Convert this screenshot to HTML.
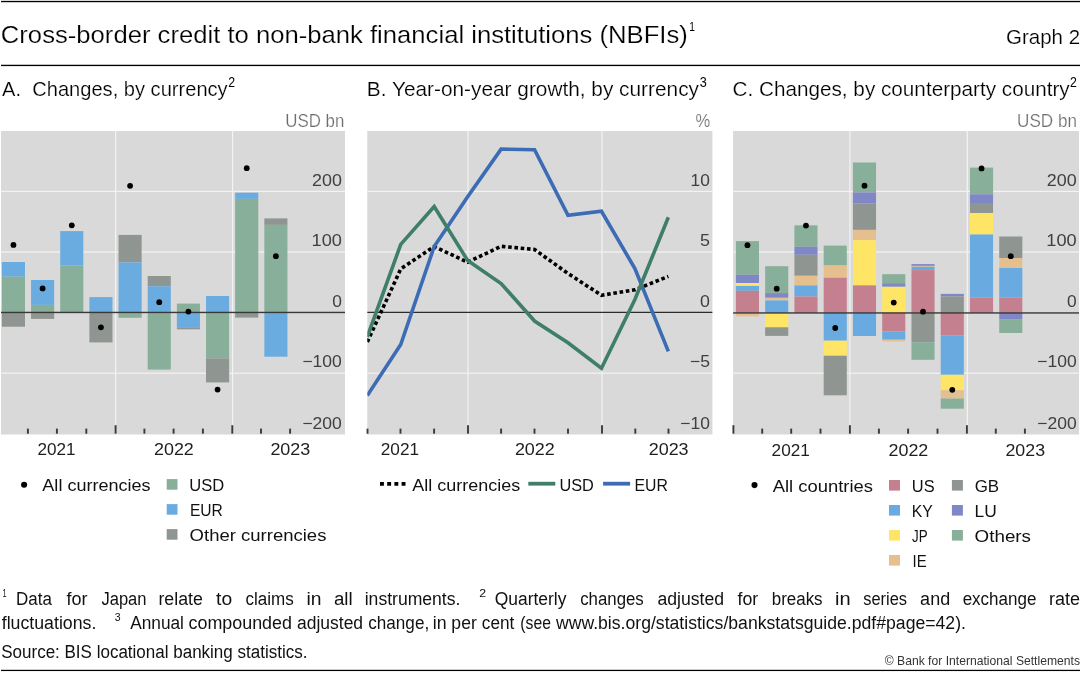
<!DOCTYPE html>
<html><head><meta charset="utf-8"><style>
html,body{margin:0;padding:0;background:#fff;width:1083px;height:675px;overflow:hidden}
svg{display:block;will-change:transform}
text{font-family:"Liberation Sans", sans-serif}
</style></head><body>
<svg width="1083" height="675" viewBox="0 0 1083 675">
<rect x="0" y="0" width="1083" height="675" fill="#fff"/>
<rect x="1" y="0.85" width="1079" height="1.35" fill="#000"/>
<rect x="1" y="64.75" width="1079" height="1.35" fill="#000"/>
<rect x="1" y="669.8" width="1079" height="1.25" fill="#000"/>
<rect x="1" y="131" width="344" height="303.5" fill="#d9d9d9"/>
<rect x="1" y="190.80" width="344" height="1.2" fill="#f3f3f3"/>
<rect x="1" y="251.40" width="344" height="1.2" fill="#f3f3f3"/>
<rect x="1" y="372.60" width="344" height="1.2" fill="#f3f3f3"/>
<rect x="115.00" y="131" width="1.2" height="303.5" fill="#f3f3f3"/>
<rect x="232.00" y="131" width="1.2" height="303.5" fill="#f3f3f3"/>
<rect x="1.90" y="262.00" width="23.10" height="14.70" fill="#6aacdf"/>
<rect x="1.90" y="276.70" width="23.10" height="35.70" fill="#88af99"/>
<rect x="1.90" y="312.40" width="23.10" height="14.30" fill="#8f9590"/>
<rect x="31.06" y="280.00" width="23.10" height="24.90" fill="#6aacdf"/>
<rect x="31.06" y="304.90" width="23.10" height="7.50" fill="#88af99"/>
<rect x="31.06" y="312.40" width="23.10" height="6.50" fill="#8f9590"/>
<rect x="60.22" y="231.10" width="23.10" height="34.50" fill="#6aacdf"/>
<rect x="60.22" y="265.60" width="23.10" height="46.80" fill="#88af99"/>
<rect x="89.38" y="297.10" width="23.10" height="15.30" fill="#6aacdf"/>
<rect x="89.38" y="312.40" width="23.10" height="30.00" fill="#8f9590"/>
<rect x="118.54" y="234.90" width="23.10" height="27.50" fill="#8f9590"/>
<rect x="118.54" y="262.40" width="23.10" height="50.00" fill="#6aacdf"/>
<rect x="118.54" y="312.40" width="23.10" height="5.40" fill="#88af99"/>
<rect x="147.70" y="276.00" width="23.10" height="10.20" fill="#8f9590"/>
<rect x="147.70" y="286.20" width="23.10" height="26.20" fill="#6aacdf"/>
<rect x="147.70" y="312.40" width="23.10" height="57.20" fill="#88af99"/>
<rect x="176.86" y="303.60" width="23.10" height="8.80" fill="#88af99"/>
<rect x="176.86" y="312.40" width="23.10" height="14.90" fill="#6aacdf"/>
<rect x="176.86" y="327.30" width="23.10" height="2.00" fill="#8f9590"/>
<rect x="206.02" y="296.00" width="23.10" height="16.40" fill="#6aacdf"/>
<rect x="206.02" y="312.40" width="23.10" height="46.00" fill="#88af99"/>
<rect x="206.02" y="358.40" width="23.10" height="24.00" fill="#8f9590"/>
<rect x="235.18" y="192.70" width="23.10" height="6.20" fill="#6aacdf"/>
<rect x="235.18" y="198.90" width="23.10" height="113.50" fill="#88af99"/>
<rect x="235.18" y="312.40" width="23.10" height="5.20" fill="#8f9590"/>
<rect x="264.34" y="218.40" width="23.10" height="6.50" fill="#8f9590"/>
<rect x="264.34" y="224.90" width="23.10" height="87.50" fill="#88af99"/>
<rect x="264.34" y="312.40" width="23.10" height="44.30" fill="#6aacdf"/>
<rect x="1" y="311.75" width="344" height="1.4" fill="#383838"/>
<circle cx="13.45" cy="244.9" r="2.9" fill="#000"/>
<circle cx="42.61" cy="288.4" r="2.9" fill="#000"/>
<circle cx="71.77" cy="225.3" r="2.9" fill="#000"/>
<circle cx="100.93" cy="327.3" r="2.9" fill="#000"/>
<circle cx="130.09" cy="185.8" r="2.9" fill="#000"/>
<circle cx="159.25" cy="302.2" r="2.9" fill="#000"/>
<circle cx="188.41" cy="311.6" r="2.9" fill="#000"/>
<circle cx="217.57" cy="389.6" r="2.9" fill="#000"/>
<circle cx="246.73" cy="168.2" r="2.9" fill="#000"/>
<circle cx="275.89" cy="256.2" r="2.9" fill="#000"/>
<rect x="114.65" y="425.2" width="1.9" height="8.5" fill="#3a3a3a"/>
<rect x="231.35" y="425.2" width="1.9" height="8.5" fill="#3a3a3a"/>
<rect x="26.95" y="428.6" width="1.9" height="5.1" fill="#3a3a3a"/>
<rect x="55.95" y="428.6" width="1.9" height="5.1" fill="#3a3a3a"/>
<rect x="85.35" y="428.6" width="1.9" height="5.1" fill="#3a3a3a"/>
<rect x="143.45" y="428.6" width="1.9" height="5.1" fill="#3a3a3a"/>
<rect x="172.65" y="428.6" width="1.9" height="5.1" fill="#3a3a3a"/>
<rect x="201.95" y="428.6" width="1.9" height="5.1" fill="#3a3a3a"/>
<rect x="260.05" y="428.6" width="1.9" height="5.1" fill="#3a3a3a"/>
<rect x="289.15" y="428.6" width="1.9" height="5.1" fill="#3a3a3a"/>
<rect x="367.3" y="131" width="345.09999999999997" height="303.5" fill="#d9d9d9"/>
<rect x="367.3" y="190.80" width="345.09999999999997" height="1.2" fill="#f3f3f3"/>
<rect x="367.3" y="251.40" width="345.09999999999997" height="1.2" fill="#f3f3f3"/>
<rect x="367.3" y="372.60" width="345.09999999999997" height="1.2" fill="#f3f3f3"/>
<rect x="467.40" y="131" width="1.2" height="303.5" fill="#f3f3f3"/>
<rect x="601.40" y="131" width="1.2" height="303.5" fill="#f3f3f3"/>
<rect x="367.3" y="311.80" width="345.1" height="1.0" fill="#000"/>
<clipPath id="clipB"><rect x="367.3" y="131" width="345.1" height="303.4"/></clipPath>
<g clip-path="url(#clipB)">
<polyline points="367.30,342.00 400.75,268.90 434.20,246.60 467.65,262.20 501.10,246.30 534.55,249.50 568.00,273.50 601.45,295.30 634.90,289.80 668.35,276.40" fill="none" stroke="#000" stroke-width="3.6" stroke-dasharray="3.6 2.7" stroke-linejoin="miter"/>
<polyline points="367.30,395.50 400.75,344.50 434.20,246.50 467.65,196.80 501.10,149.10 534.55,149.70 568.00,215.30 601.45,211.30 634.90,268.50 668.35,351.40" fill="none" stroke="#3b6cb4" stroke-width="3.6" stroke-linejoin="miter"/>
<polyline points="367.30,336.80 400.75,244.40 434.20,206.60 467.65,260.50 501.10,283.60 534.55,321.00 568.00,342.70 601.45,368.30 634.90,299.50 668.35,217.30" fill="none" stroke="#3f7f67" stroke-width="3.6" stroke-linejoin="miter"/>
</g>
<rect x="467.05" y="425.2" width="1.9" height="8.5" fill="#3a3a3a"/>
<rect x="601.05" y="425.2" width="1.9" height="8.5" fill="#3a3a3a"/>
<rect x="366.55" y="428.6" width="1.9" height="5.1" fill="#3a3a3a"/>
<rect x="399.55" y="428.6" width="1.9" height="5.1" fill="#3a3a3a"/>
<rect x="433.15" y="428.6" width="1.9" height="5.1" fill="#3a3a3a"/>
<rect x="500.15" y="428.6" width="1.9" height="5.1" fill="#3a3a3a"/>
<rect x="533.55" y="428.6" width="1.9" height="5.1" fill="#3a3a3a"/>
<rect x="567.05" y="428.6" width="1.9" height="5.1" fill="#3a3a3a"/>
<rect x="634.35" y="428.6" width="1.9" height="5.1" fill="#3a3a3a"/>
<rect x="667.55" y="428.6" width="1.9" height="5.1" fill="#3a3a3a"/>
<rect x="733.1" y="131" width="345.9" height="303.5" fill="#d9d9d9"/>
<rect x="733.1" y="190.80" width="345.9" height="1.2" fill="#f3f3f3"/>
<rect x="733.1" y="251.40" width="345.9" height="1.2" fill="#f3f3f3"/>
<rect x="733.1" y="372.60" width="345.9" height="1.2" fill="#f3f3f3"/>
<rect x="849.30" y="131" width="1.2" height="303.5" fill="#f3f3f3"/>
<rect x="966.70" y="131" width="1.2" height="303.5" fill="#f3f3f3"/>
<rect x="735.90" y="241.10" width="23.10" height="33.70" fill="#88af99"/>
<rect x="735.90" y="274.80" width="23.10" height="8.20" fill="#7f87c6"/>
<rect x="735.90" y="283.00" width="23.10" height="2.90" fill="#ffe566"/>
<rect x="735.90" y="285.90" width="23.10" height="4.90" fill="#69abe0"/>
<rect x="735.90" y="290.80" width="23.10" height="22.10" fill="#c4808f"/>
<rect x="735.90" y="312.90" width="23.10" height="3.50" fill="#e5c08e"/>
<rect x="765.16" y="266.20" width="23.10" height="26.90" fill="#88af99"/>
<rect x="765.16" y="293.10" width="23.10" height="4.70" fill="#7f87c6"/>
<rect x="765.16" y="297.80" width="23.10" height="2.60" fill="#e5c08e"/>
<rect x="765.16" y="300.40" width="23.10" height="12.50" fill="#69abe0"/>
<rect x="765.16" y="312.90" width="23.10" height="14.40" fill="#ffe566"/>
<rect x="765.16" y="327.30" width="23.10" height="8.60" fill="#8f9590"/>
<rect x="794.42" y="225.30" width="23.10" height="21.50" fill="#88af99"/>
<rect x="794.42" y="246.80" width="23.10" height="8.00" fill="#7f87c6"/>
<rect x="794.42" y="254.80" width="23.10" height="21.00" fill="#8f9590"/>
<rect x="794.42" y="275.80" width="23.10" height="9.60" fill="#e5c08e"/>
<rect x="794.42" y="285.40" width="23.10" height="11.10" fill="#69abe0"/>
<rect x="794.42" y="296.50" width="23.10" height="16.40" fill="#c4808f"/>
<rect x="823.68" y="245.60" width="23.10" height="19.90" fill="#88af99"/>
<rect x="823.68" y="265.50" width="23.10" height="12.20" fill="#e5c08e"/>
<rect x="823.68" y="277.70" width="23.10" height="35.20" fill="#c4808f"/>
<rect x="823.68" y="312.90" width="23.10" height="27.80" fill="#69abe0"/>
<rect x="823.68" y="340.70" width="23.10" height="15.00" fill="#ffe566"/>
<rect x="823.68" y="355.70" width="23.10" height="39.60" fill="#8f9590"/>
<rect x="852.94" y="162.50" width="23.10" height="29.90" fill="#88af99"/>
<rect x="852.94" y="192.40" width="23.10" height="10.90" fill="#7f87c6"/>
<rect x="852.94" y="203.30" width="23.10" height="26.60" fill="#8f9590"/>
<rect x="852.94" y="229.90" width="23.10" height="10.20" fill="#e5c08e"/>
<rect x="852.94" y="240.10" width="23.10" height="45.30" fill="#ffe566"/>
<rect x="852.94" y="285.40" width="23.10" height="27.50" fill="#c4808f"/>
<rect x="852.94" y="312.90" width="23.10" height="23.10" fill="#69abe0"/>
<rect x="882.20" y="274.20" width="23.10" height="9.00" fill="#88af99"/>
<rect x="882.20" y="283.20" width="23.10" height="3.60" fill="#7f87c6"/>
<rect x="882.20" y="286.80" width="23.10" height="26.10" fill="#ffe566"/>
<rect x="882.20" y="312.90" width="23.10" height="18.70" fill="#c4808f"/>
<rect x="882.20" y="331.60" width="23.10" height="8.10" fill="#69abe0"/>
<rect x="882.20" y="339.70" width="23.10" height="1.70" fill="#e5c08e"/>
<rect x="911.46" y="264.10" width="23.10" height="1.80" fill="#7f87c6"/>
<rect x="911.46" y="265.90" width="23.10" height="0.90" fill="#e5c08e"/>
<rect x="911.46" y="266.80" width="23.10" height="3.30" fill="#69abe0"/>
<rect x="911.46" y="270.10" width="23.10" height="42.80" fill="#c4808f"/>
<rect x="911.46" y="312.90" width="23.10" height="29.30" fill="#8f9590"/>
<rect x="911.46" y="342.20" width="23.10" height="17.60" fill="#88af99"/>
<rect x="940.72" y="293.90" width="23.10" height="2.50" fill="#7f87c6"/>
<rect x="940.72" y="296.40" width="23.10" height="16.50" fill="#8f9590"/>
<rect x="940.72" y="312.90" width="23.10" height="22.40" fill="#c4808f"/>
<rect x="940.72" y="335.30" width="23.10" height="39.50" fill="#69abe0"/>
<rect x="940.72" y="374.80" width="23.10" height="15.40" fill="#ffe566"/>
<rect x="940.72" y="390.20" width="23.10" height="8.30" fill="#e5c08e"/>
<rect x="940.72" y="398.50" width="23.10" height="10.20" fill="#88af99"/>
<rect x="969.98" y="167.60" width="23.10" height="26.70" fill="#88af99"/>
<rect x="969.98" y="194.30" width="23.10" height="8.70" fill="#7f87c6"/>
<rect x="969.98" y="203.00" width="23.10" height="10.10" fill="#8f9590"/>
<rect x="969.98" y="213.10" width="23.10" height="21.40" fill="#ffe566"/>
<rect x="969.98" y="234.50" width="23.10" height="63.10" fill="#69abe0"/>
<rect x="969.98" y="297.60" width="23.10" height="15.30" fill="#c4808f"/>
<rect x="999.24" y="236.50" width="23.10" height="21.50" fill="#8f9590"/>
<rect x="999.24" y="258.00" width="23.10" height="10.00" fill="#e5c08e"/>
<rect x="999.24" y="268.00" width="23.10" height="29.60" fill="#69abe0"/>
<rect x="999.24" y="297.60" width="23.10" height="15.30" fill="#c4808f"/>
<rect x="999.24" y="312.90" width="23.10" height="6.20" fill="#7f87c6"/>
<rect x="999.24" y="319.10" width="23.10" height="13.90" fill="#88af99"/>
<rect x="733.1" y="312.25" width="345.9" height="1.4" fill="#383838"/>
<circle cx="747.45" cy="245.2" r="2.9" fill="#000"/>
<circle cx="776.71" cy="288.7" r="2.9" fill="#000"/>
<circle cx="805.97" cy="225.6" r="2.9" fill="#000"/>
<circle cx="835.23" cy="328.0" r="2.9" fill="#000"/>
<circle cx="864.49" cy="185.7" r="2.9" fill="#000"/>
<circle cx="893.75" cy="302.6" r="2.9" fill="#000"/>
<circle cx="923.01" cy="311.7" r="2.9" fill="#000"/>
<circle cx="952.27" cy="389.8" r="2.9" fill="#000"/>
<circle cx="981.53" cy="168.4" r="2.9" fill="#000"/>
<circle cx="1010.79" cy="256.2" r="2.9" fill="#000"/>
<rect x="732.45" y="425.2" width="1.9" height="8.5" fill="#3a3a3a"/>
<rect x="848.95" y="425.2" width="1.9" height="8.5" fill="#3a3a3a"/>
<rect x="965.95" y="425.2" width="1.9" height="8.5" fill="#3a3a3a"/>
<rect x="761.25" y="428.6" width="1.9" height="5.1" fill="#3a3a3a"/>
<rect x="790.25" y="428.6" width="1.9" height="5.1" fill="#3a3a3a"/>
<rect x="819.55" y="428.6" width="1.9" height="5.1" fill="#3a3a3a"/>
<rect x="877.95" y="428.6" width="1.9" height="5.1" fill="#3a3a3a"/>
<rect x="907.15" y="428.6" width="1.9" height="5.1" fill="#3a3a3a"/>
<rect x="936.55" y="428.6" width="1.9" height="5.1" fill="#3a3a3a"/>
<rect x="994.85" y="428.6" width="1.9" height="5.1" fill="#3a3a3a"/>
<rect x="1023.95" y="428.6" width="1.9" height="5.1" fill="#3a3a3a"/>
<text x="0.82" y="42.80" font-size="24.40" fill="#000" stroke="#fff" stroke-width="0.2" textLength="687.01" lengthAdjust="spacingAndGlyphs">Cross-border credit to non-bank financial institutions (NBFIs)</text>
<text x="689.24" y="31.40" font-size="12.60" fill="#000" textLength="5.66" lengthAdjust="spacingAndGlyphs">1</text>
<text x="1006.08" y="44.40" font-size="20.60" fill="#000" stroke="#fff" stroke-width="0.2" textLength="73.97" lengthAdjust="spacingAndGlyphs">Graph 2</text>
<text x="2.05" y="95.80" font-size="20.60" fill="#000" stroke="#fff" stroke-width="0.2" textLength="225.61" lengthAdjust="spacingAndGlyphs">A.  Changes, by currency</text>
<text x="228.28" y="87.10" font-size="14.00" fill="#000" textLength="6.85" lengthAdjust="spacingAndGlyphs">2</text>
<text x="366.88" y="95.80" font-size="20.60" fill="#000" stroke="#fff" stroke-width="0.2" textLength="332.07" lengthAdjust="spacingAndGlyphs">B. Year-on-year growth, by currency</text>
<text x="699.63" y="86.80" font-size="14.00" fill="#000" textLength="7.03" lengthAdjust="spacingAndGlyphs">3</text>
<text x="732.56" y="95.80" font-size="20.60" fill="#000" stroke="#fff" stroke-width="0.2" textLength="337.17" lengthAdjust="spacingAndGlyphs">C. Changes, by counterparty country</text>
<text x="1069.98" y="87.10" font-size="14.00" fill="#000" textLength="6.85" lengthAdjust="spacingAndGlyphs">2</text>
<text x="285.29" y="126.80" font-size="19.00" fill="#6e6e6e" stroke="#fff" stroke-width="0.2" textLength="59.09" lengthAdjust="spacingAndGlyphs">USD bn</text>
<text x="695.62" y="126.80" font-size="19.00" fill="#6e6e6e" stroke="#fff" stroke-width="0.2" textLength="14.75" lengthAdjust="spacingAndGlyphs">%</text>
<text x="1017.07" y="126.80" font-size="19.00" fill="#6e6e6e" stroke="#fff" stroke-width="0.2" textLength="59.92" lengthAdjust="spacingAndGlyphs">USD bn</text>
<text x="312.00" y="186.00" font-size="16.60" fill="#404040" textLength="29.89" lengthAdjust="spacingAndGlyphs">200</text>
<text x="311.54" y="246.40" font-size="16.60" fill="#404040" textLength="30.37" lengthAdjust="spacingAndGlyphs">100</text>
<text x="332.20" y="306.90" font-size="16.60" fill="#404040" textLength="9.67" lengthAdjust="spacingAndGlyphs">0</text>
<text x="302.42" y="367.40" font-size="16.60" fill="#404040" textLength="39.43" lengthAdjust="spacingAndGlyphs">−100</text>
<text x="302.42" y="428.60" font-size="16.60" fill="#404040" textLength="39.43" lengthAdjust="spacingAndGlyphs">−200</text>
<text x="690.60" y="186.00" font-size="16.60" fill="#404040" textLength="19.29" lengthAdjust="spacingAndGlyphs">10</text>
<text x="699.98" y="246.40" font-size="16.60" fill="#404040" textLength="9.95" lengthAdjust="spacingAndGlyphs">5</text>
<text x="699.99" y="306.90" font-size="16.60" fill="#404040" textLength="9.90" lengthAdjust="spacingAndGlyphs">0</text>
<text x="689.92" y="367.40" font-size="16.60" fill="#404040" textLength="19.98" lengthAdjust="spacingAndGlyphs">−5</text>
<text x="680.33" y="428.60" font-size="16.60" fill="#404040" textLength="29.55" lengthAdjust="spacingAndGlyphs">−10</text>
<text x="1046.80" y="186.00" font-size="16.60" fill="#404040" textLength="29.89" lengthAdjust="spacingAndGlyphs">200</text>
<text x="1046.34" y="246.40" font-size="16.60" fill="#404040" textLength="30.37" lengthAdjust="spacingAndGlyphs">100</text>
<text x="1067.00" y="306.90" font-size="16.60" fill="#404040" textLength="9.67" lengthAdjust="spacingAndGlyphs">0</text>
<text x="1037.22" y="367.40" font-size="16.60" fill="#404040" textLength="39.43" lengthAdjust="spacingAndGlyphs">−100</text>
<text x="1037.22" y="428.60" font-size="16.60" fill="#404040" textLength="39.43" lengthAdjust="spacingAndGlyphs">−200</text>
<text x="37.44" y="454.90" font-size="16.50" fill="#1e1e1e" textLength="38.11" lengthAdjust="spacingAndGlyphs">2021</text>
<text x="154.00" y="454.90" font-size="16.50" fill="#1e1e1e" textLength="39.83" lengthAdjust="spacingAndGlyphs">2022</text>
<text x="270.40" y="454.90" font-size="16.50" fill="#1e1e1e" textLength="39.90" lengthAdjust="spacingAndGlyphs">2023</text>
<text x="380.74" y="454.90" font-size="16.50" fill="#1e1e1e" textLength="38.32" lengthAdjust="spacingAndGlyphs">2021</text>
<text x="514.90" y="454.90" font-size="16.50" fill="#1e1e1e" textLength="39.93" lengthAdjust="spacingAndGlyphs">2022</text>
<text x="648.70" y="454.90" font-size="16.50" fill="#1e1e1e" textLength="39.90" lengthAdjust="spacingAndGlyphs">2023</text>
<text x="771.59" y="455.90" font-size="16.50" fill="#1e1e1e" textLength="38.21" lengthAdjust="spacingAndGlyphs">2021</text>
<text x="888.50" y="455.90" font-size="16.50" fill="#1e1e1e" textLength="39.83" lengthAdjust="spacingAndGlyphs">2022</text>
<text x="1005.46" y="455.90" font-size="16.50" fill="#1e1e1e" textLength="39.58" lengthAdjust="spacingAndGlyphs">2023</text>
<circle cx="24.1" cy="484.7" r="3.05" fill="#000"/>
<text x="42.35" y="491.10" font-size="17.40" fill="#111" textLength="108.27" lengthAdjust="spacingAndGlyphs">All currencies</text>
<rect x="166.7" y="479.1" width="10.8" height="10.6" fill="#88af99"/>
<text x="189.22" y="491.10" font-size="17.40" fill="#111" textLength="34.95" lengthAdjust="spacingAndGlyphs">USD</text>
<rect x="166.7" y="504.1" width="10.8" height="10.6" fill="#6aacdf"/>
<text x="189.91" y="516.10" font-size="17.40" fill="#111" textLength="32.91" lengthAdjust="spacingAndGlyphs">EUR</text>
<rect x="166.7" y="529.1" width="10.8" height="10.6" fill="#8f9590"/>
<text x="189.62" y="541.10" font-size="17.40" fill="#111" textLength="136.81" lengthAdjust="spacingAndGlyphs">Other currencies</text>
<line x1="380" y1="483.85" x2="405.8" y2="483.85" stroke="#000" stroke-width="3.9" stroke-dasharray="3.9 3.3"/>
<text x="412.36" y="491.10" font-size="17.40" fill="#111" textLength="107.87" lengthAdjust="spacingAndGlyphs">All currencies</text>
<rect x="528.3" y="481.8" width="27" height="3.8" fill="#3f7f67"/>
<text x="559.44" y="491.10" font-size="17.40" fill="#111" textLength="34.42" lengthAdjust="spacingAndGlyphs">USD</text>
<rect x="603.1" y="481.8" width="27" height="3.8" fill="#3b6cb4"/>
<text x="634.50" y="491.10" font-size="17.40" fill="#111" textLength="33.33" lengthAdjust="spacingAndGlyphs">EUR</text>
<circle cx="754.5" cy="485.1" r="3.05" fill="#000"/>
<text x="772.65" y="491.60" font-size="17.40" fill="#111" textLength="100.38" lengthAdjust="spacingAndGlyphs">All countries</text>
<rect x="889.0" y="480.0" width="11" height="10.6" fill="#c4808f"/>
<text x="911.83" y="491.60" font-size="17.40" fill="#111" textLength="22.80" lengthAdjust="spacingAndGlyphs">US</text>
<rect x="889.0" y="505.0" width="11" height="10.6" fill="#69abe0"/>
<text x="911.80" y="516.60" font-size="17.40" fill="#111" textLength="21.04" lengthAdjust="spacingAndGlyphs">KY</text>
<rect x="889.0" y="530.0" width="11" height="10.6" fill="#ffe566"/>
<text x="912.10" y="541.60" font-size="17.40" fill="#111" textLength="15.60" lengthAdjust="spacingAndGlyphs">JP</text>
<rect x="889.0" y="555.0" width="11" height="10.6" fill="#e5c08e"/>
<text x="912.62" y="566.60" font-size="17.40" fill="#111" textLength="14.11" lengthAdjust="spacingAndGlyphs">IE</text>
<rect x="951.9" y="480.0" width="11" height="10.6" fill="#8f9590"/>
<text x="974.65" y="491.60" font-size="17.40" fill="#111" textLength="24.43" lengthAdjust="spacingAndGlyphs">GB</text>
<rect x="951.9" y="505.0" width="11" height="10.6" fill="#7f87c6"/>
<text x="974.57" y="516.60" font-size="17.40" fill="#111" textLength="22.19" lengthAdjust="spacingAndGlyphs">LU</text>
<rect x="951.9" y="530.0" width="11" height="10.6" fill="#88af99"/>
<text x="974.61" y="541.60" font-size="17.40" fill="#111" textLength="56.37" lengthAdjust="spacingAndGlyphs">Others</text>
<text x="2.45" y="597.00" font-size="11.80" fill="#111" textLength="4.12" lengthAdjust="spacingAndGlyphs">1</text>
<text x="16.10" y="604.70" font-size="17.60" fill="#111" textLength="35.80" lengthAdjust="spacingAndGlyphs">Data</text>
<text x="66.53" y="604.70" font-size="17.60" fill="#111" textLength="21.03" lengthAdjust="spacingAndGlyphs">for</text>
<text x="101.45" y="604.70" font-size="17.60" fill="#111" textLength="45.02" lengthAdjust="spacingAndGlyphs">Japan</text>
<text x="158.45" y="604.70" font-size="17.60" fill="#111" textLength="44.33" lengthAdjust="spacingAndGlyphs">relate</text>
<text x="216.11" y="604.70" font-size="17.60" fill="#111" textLength="16.09" lengthAdjust="spacingAndGlyphs">to</text>
<text x="245.48" y="604.70" font-size="17.60" fill="#111" textLength="48.24" lengthAdjust="spacingAndGlyphs">claims</text>
<text x="306.50" y="604.70" font-size="17.60" fill="#111" textLength="15.03" lengthAdjust="spacingAndGlyphs">in</text>
<text x="333.90" y="604.70" font-size="17.60" fill="#111" textLength="18.77" lengthAdjust="spacingAndGlyphs">all</text>
<text x="364.71" y="604.70" font-size="17.60" fill="#111" textLength="95.69" lengthAdjust="spacingAndGlyphs">instruments.</text>
<text x="494.77" y="604.70" font-size="17.60" fill="#111" textLength="71.67" lengthAdjust="spacingAndGlyphs">Quarterly</text>
<text x="580.18" y="604.70" font-size="17.60" fill="#111" textLength="63.62" lengthAdjust="spacingAndGlyphs">changes</text>
<text x="657.45" y="604.70" font-size="17.60" fill="#111" textLength="66.67" lengthAdjust="spacingAndGlyphs">adjusted</text>
<text x="737.53" y="604.70" font-size="17.60" fill="#111" textLength="20.72" lengthAdjust="spacingAndGlyphs">for</text>
<text x="771.80" y="604.70" font-size="17.60" fill="#111" textLength="50.78" lengthAdjust="spacingAndGlyphs">breaks</text>
<text x="835.14" y="604.70" font-size="17.60" fill="#111" textLength="15.63" lengthAdjust="spacingAndGlyphs">in</text>
<text x="863.25" y="604.70" font-size="17.60" fill="#111" textLength="43.83" lengthAdjust="spacingAndGlyphs">series</text>
<text x="920.14" y="604.70" font-size="17.60" fill="#111" textLength="30.01" lengthAdjust="spacingAndGlyphs">and</text>
<text x="962.68" y="604.70" font-size="17.60" fill="#111" textLength="73.68" lengthAdjust="spacingAndGlyphs">exchange</text>
<text x="1049.03" y="604.70" font-size="17.60" fill="#111" textLength="31.05" lengthAdjust="spacingAndGlyphs">rate</text>
<text x="479.28" y="597.00" font-size="11.80" fill="#111" textLength="6.85" lengthAdjust="spacingAndGlyphs">2</text>
<text x="1.73" y="628.60" font-size="17.60" fill="#111" textLength="94.65" lengthAdjust="spacingAndGlyphs">fluctuations.</text>
<text x="114.81" y="621.00" font-size="11.80" fill="#111" textLength="5.85" lengthAdjust="spacingAndGlyphs">3</text>
<text x="130.16" y="628.60" font-size="17.60" fill="#111" textLength="53.79" lengthAdjust="spacingAndGlyphs">Annual</text>
<text x="188.54" y="628.60" font-size="17.60" fill="#111" textLength="103.42" lengthAdjust="spacingAndGlyphs">compounded</text>
<text x="297.06" y="628.60" font-size="17.60" fill="#111" textLength="66.05" lengthAdjust="spacingAndGlyphs">adjusted</text>
<text x="368.27" y="628.60" font-size="17.60" fill="#111" textLength="60.89" lengthAdjust="spacingAndGlyphs">change,</text>
<text x="432.80" y="628.60" font-size="17.60" fill="#111" textLength="13.82" lengthAdjust="spacingAndGlyphs">in</text>
<text x="451.36" y="628.60" font-size="17.60" fill="#111" textLength="25.41" lengthAdjust="spacingAndGlyphs">per</text>
<text x="481.87" y="628.60" font-size="17.60" fill="#111" textLength="32.56" lengthAdjust="spacingAndGlyphs">cent</text>
<text x="520.31" y="628.60" font-size="17.60" fill="#111" textLength="30.66" lengthAdjust="spacingAndGlyphs">(see</text>
<text x="555.94" y="628.60" font-size="17.60" fill="#111" textLength="409.97" lengthAdjust="spacingAndGlyphs">www.bis.org/statistics/bankstatsguide.pdf#page=42).</text>
<text x="1.23" y="658.40" font-size="17.60" fill="#111" textLength="306.19" lengthAdjust="spacingAndGlyphs">Source: BIS locational banking statistics.</text>
<text x="884.72" y="664.80" font-size="13.10" fill="#333" textLength="195.30" lengthAdjust="spacingAndGlyphs">© Bank for International Settlements</text>
</svg>
</body></html>
